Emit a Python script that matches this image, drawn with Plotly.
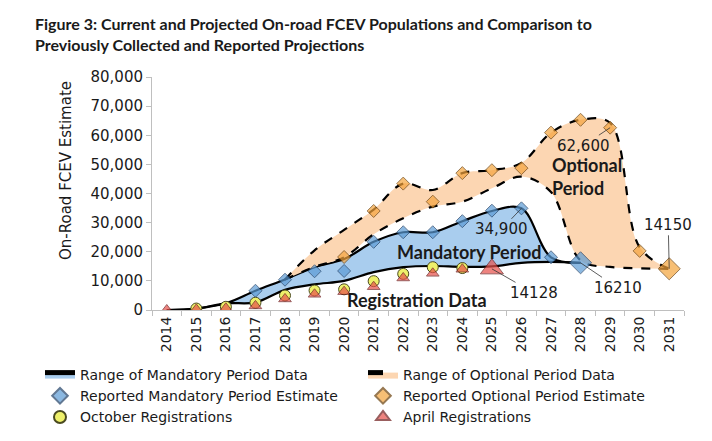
import plotly.graph_objects as go

# years on the category axis
years = [str(y) for y in range(2014, 2032)]

# range of mandatory period data (2014-2028), lower and upper edge
mand_years = years[:15]
mand_low = [0, 500, 2300, 2600, 6900, 8800, 10000, 13000, 14700, 15100, 14800, 15000, 16200, 16500, 16210]
mand_high = [0, 500, 2300, 6600, 10500, 14700, 17500, 23400, 26700, 26700, 30500, 34000, 34900, 18100, 16210]

# range of optional period data (2018-2031)
opt_years = years[4:]
opt_low = [10500, 14800, 18100, 26000, 31500, 35500, 37200, 41800, 45800, 40500, 17000, 14800, 14300, 14150]
opt_high = [10500, 20500, 27500, 34500, 43400, 41200, 47000, 48000, 50500, 60900, 65300, 64200, 21500, 14150]

# reported mandatory period estimates (2017-2028)
rep_mand_years = years[3:15]
rep_mand = [6600, 10400, 13300, 13400, 23400, 26700, 26700, 30500, 34100, 34900, 18100, 16210]

# reported optional period estimates (2020-2031)
rep_opt_years = years[6:]
rep_opt = [18200, 34000, 43400, 37200, 47000, 48000, 48700, 60900, 65300, 62600, 20300, 14150]

# registrations
oct_years = years[1:11]
oct_reg = [500, 1100, 2500, 5000, 6700, 7100, 9900, 12400, 14700, 14400]
apr_years = years[:12]
apr_reg = [0, 200, 600, 1400, 3800, 5400, 6300, 8000, 11000, 12600, 14000, 14128]

# the page has an 8px body margin, so the figure is a bit smaller than the window
W, H = 704, 433
L, R, T, B = 144, 28, 69, 131
PW, PH = W - L - R, H - T - B

fig = go.Figure()

fig.add_trace(go.Scatter(x=mand_years, y=mand_low, mode="lines",
                         line=dict(color="black", width=2.2, shape="spline"),
                         showlegend=False, hoverinfo="skip"))
fig.add_trace(go.Scatter(x=mand_years, y=mand_high, mode="lines", fill="tonexty",
                         fillcolor="#A9CDEE", name="Range of Mandatory Period Data",
                         line=dict(color="black", width=2.2, shape="spline"),
                         legend="legend"))
fig.add_trace(go.Scatter(x=opt_years, y=opt_low, mode="lines",
                         line=dict(color="black", width=2.2, dash="dash", shape="spline"),
                         showlegend=False, hoverinfo="skip"))
fig.add_trace(go.Scatter(x=opt_years, y=opt_high, mode="lines", fill="tonexty",
                         fillcolor="#FCD6B2", name="Range of Optional Period Data",
                         line=dict(color="black", width=2.2, dash="dash", shape="spline"),
                         legend="legend2"))

fig.add_trace(go.Scatter(x=rep_mand_years, y=rep_mand, mode="markers",
                         name="Reported Mandatory Period Estimate", legend="legend",
                         marker=dict(symbol="diamond", color="#5B9BD5",
                                     size=[17 if y == "2028" else 10 for y in rep_mand_years],
                                     line=dict(color="#1F3F66", width=1))))
fig.add_trace(go.Scatter(x=rep_opt_years, y=rep_opt, mode="markers",
                         name="Reported Optional Period Estimate", legend="legend2",
                         marker=dict(symbol="diamond", color="#F5A43C",
                                     size=[17 if y == "2031" else 10 for y in rep_opt_years],
                                     line=dict(color="#6B3F08", width=1))))
fig.add_trace(go.Scatter(x=oct_years, y=oct_reg, mode="markers",
                         name="October Registrations", legend="legend",
                         marker=dict(symbol="circle", color="#EEF06A", size=11,
                                     line=dict(color="#4A4A20", width=1))))
fig.add_trace(go.Scatter(x=apr_years, y=apr_reg, mode="markers",
                         name="April Registrations", legend="legend2",
                         marker=dict(symbol="triangle-up", color="#E8504A",
                                     size=[20 if y == "2025" else 11 for y in apr_years],
                                     line=dict(color="#6E1B1B", width=1))))

num_font = dict(family="DejaVu Sans", size=15, color="#1a1a1a")
lab_font = dict(family="Lato", size=18, color="#1a1a1a")


def leader(year, xs, ys, text, ax, ay):
    # category index of the year, value read from the series
    fig.add_annotation(x=years.index(year), y=ys[xs.index(year)], text=text,
                       showarrow=True, arrowhead=0, arrowwidth=0.8, arrowcolor="#333",
                       ax=ax, ay=ay, font=num_font)


leader("2029", rep_opt_years, rep_opt, "62,600", -27, 18)
leader("2026", rep_mand_years, rep_mand, "34,900", -20, 21)
leader("2031", rep_opt_years, rep_opt, "14150", -1, -44)
leader("2025", apr_years, apr_reg, "14128", 42, 24)
leader("2028", rep_mand_years, rep_mand, "16210", 37, 25)

fig.add_annotation(x=8.45, y=3400, text="<b>Registration Data</b>", showarrow=False, font=lab_font)
fig.add_annotation(x=10.23, y=20000, text="<b>Mandatory Period</b>", showarrow=False, font=lab_font)
fig.add_annotation(x=12.96, y=45700, text="<b>Optional<br>Period</b>", showarrow=False,
                   xanchor="left", align="left", font=lab_font)

# y axis title placed like the original (a bit above the middle of the axis)
fig.add_annotation(xref="paper", yref="paper", x=(47 - L) / PW, y=(T + PH - 163) / PH,
                   text="On-Road FCEV Estimate", textangle=-90, showarrow=False,
                   font=dict(family="DejaVu Sans", size=15, color="#1a1a1a"))

leg_font = dict(family="DejaVu Sans", size=14, color="#1a1a1a")
leg_common = dict(orientation="h", xref="container", yref="container",
                  xanchor="left", yanchor="top", entrywidth=280,
                  font=leg_font, itemsizing="constant", traceorder="normal",
                  tracegroupgap=0, bgcolor="rgba(0,0,0,0)")

fig.update_layout(
    width=W, height=H,
    margin=dict(l=L, r=R, t=T, b=B, autoexpand=False),
    paper_bgcolor="white", plot_bgcolor="white",
    title=dict(text="<b>Figure 3: Current and Projected On-road FCEV Populations and Comparison to<br>"
                    "Previously Collected and Reported Projections</b>",
               font=dict(family="Lato", size=16, color="#1a1a1a"),
               x=27 / W, xanchor="left", yref="container", y=1 - 22 / H, yanchor="top"),
    showlegend=True,
    legend=dict(x=32 / W, y=1 - 351 / H, **leg_common),
    legend2=dict(x=355 / W, y=1 - 351 / H, **leg_common),
    xaxis=dict(type="category", categoryorder="array", categoryarray=years,
               range=[-0.5, 17.5], tickangle=-90, tickson="boundaries",
               ticks="outside", ticklen=5, tickcolor="#bfbfbf", automargin=False,
               showline=True, linecolor="#bfbfbf", linewidth=1, showgrid=False,
               tickfont=dict(family="DejaVu Sans", size=14, color="#1a1a1a")),
    yaxis=dict(range=[0, 80000], dtick=10000, tickformat=",", ticks="outside",
               ticklen=5, tickcolor="#bfbfbf", showline=True, linecolor="#bfbfbf",
               showgrid=False, zeroline=False, automargin=False,
               tickfont=dict(family="DejaVu Sans", size=15, color="#1a1a1a")),
)

fig.write_html("out.html")
